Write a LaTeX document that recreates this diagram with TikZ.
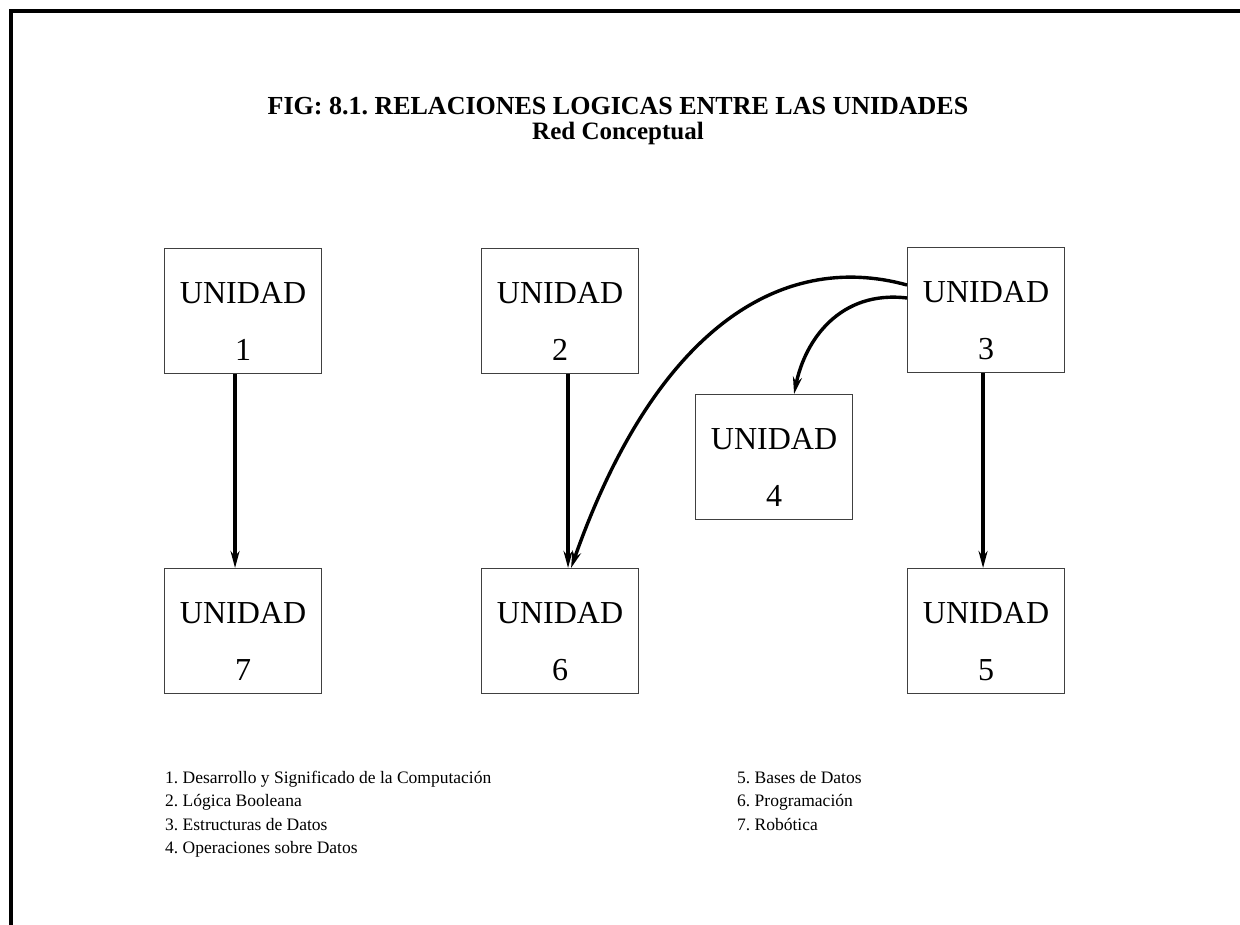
\documentclass[tikz,border=0pt]{standalone}
\usepackage{fontspec}
\setmainfont{Liberation Serif}
\usetikzlibrary{arrows.meta,calc}
\frenchspacing
\begin{document}
\begin{tikzpicture}[x=1pt,y=-1pt,
  ubox/.style={draw=black!75,line width=1.1pt,rectangle,minimum width=157pt,minimum height=125pt,inner sep=0pt},
  utext/.style={font=\fontsize{32}{36}\selectfont,inner sep=0pt},
  link/.style={line width=3.4pt,-{Stealth[length=17pt,width=9pt]}},
  frame/.style={line width=4.5pt,black},
  legend/.style={font=\fontsize{17.5}{20}\selectfont,anchor=base west,inner sep=0pt}]
\useasboundingbox (0,0) rectangle (1240,925);
% outer frame: top and left edges only
\coordinate (fL) at (11,925);
\coordinate (fC) at (11,11);
\coordinate (fR) at (1240,11);
\draw[frame] (fL) -- (fC) -- (fR);
% heading
\node[font=\bfseries\fontsize{26}{30}\selectfont,inner sep=0pt,anchor=base] (title) at (618,115) {FIG: 8.1. RELACIONES LOGICAS ENTRE LAS UNIDADES};
\node[font=\bfseries\fontsize{25}{29}\selectfont,inner sep=0pt,anchor=base] (subtitle) at (618,140) {Red Conceptual};
% unit boxes
\newcommand\unitbox[4]{%
  \node[ubox,anchor=north west] (#1) at (#2,#3) {};
  \node[utext] (#1t) at ($(#1.north)+(0,45)$) {UNIDAD};
  \node[utext] (#1n) at ($(#1.north)+(0,102)$) {#4};
}
\unitbox{u1}{164}{248}{1}
\unitbox{u2}{481}{248}{2}
\unitbox{u3}{907}{247}{3}
\unitbox{u4}{695}{394}{4}
\unitbox{u5}{907}{568}{5}
\unitbox{u6}{481}{568}{6}
\unitbox{u7}{164}{568}{7}
% connectors
\draw[link] ([xshift=-8pt]u1.south) -- ([xshift=-8pt]u7.north);
\draw[link] ([xshift=8pt]u2.south) -- ([xshift=8pt]u6.north);
\draw[link] ([xshift=-3pt]u3.south) -- ([xshift=-3pt]u5.north);
\draw[link] ([yshift=-38pt]u3.north west) .. controls (780,250) and (655,330) .. ([xshift=11pt]u6.north);
\draw[link] ([yshift=-51pt]u3.north west) .. controls (840,290) and (805,340) .. ([xshift=20pt]u4.north);
% legend
\node[legend] (l1) at (165,783) {1. Desarrollo y Significado de la Computación};
\node[legend] (l2) at (165,806) {2. Lógica Booleana};
\node[legend] (l3) at (165,830) {3. Estructuras de Datos};
\node[legend] (l4) at (165,853) {4. Operaciones sobre Datos};
\node[legend] (l5) at (737,783) {5. Bases de Datos};
\node[legend] (l6) at (737,806) {6. Programación};
\node[legend] (l7) at (737,830) {7. Robótica};
\end{tikzpicture}
\end{document}
